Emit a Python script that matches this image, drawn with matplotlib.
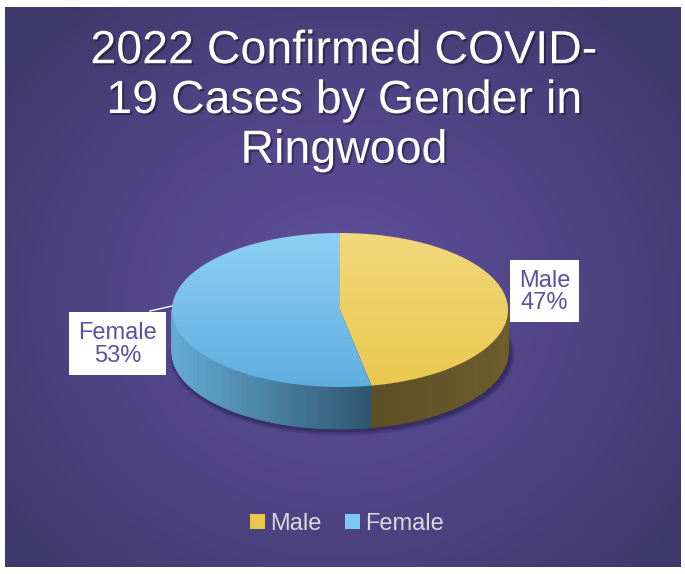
import numpy as np
import matplotlib.pyplot as plt
from matplotlib.patches import Polygon, Rectangle, Patch, Ellipse
from matplotlib.colors import to_rgb
import matplotlib.patheffects as pe

categories = ['Male', 'Female']
values = [47, 53]
label_texts = ['Male\n47%', 'Female\n53%']
title = '2022 Confirmed COVID-\n19 Cases by Gender in\nRingwood'

FONT = 'Liberation Sans'
W, H = 685, 574
fig = plt.figure(figsize=(W / 100, H / 100), dpi=100)
fig.patch.set_facecolor('white')
ax = fig.add_axes([0, 0, 1, 1])

# background radial gradient
x0, x1, y0, y1 = 5, 681, 7, 567
yy, xx = np.mgrid[y0:y1, x0:x1]
r = np.sqrt(((xx - 340) / 430) ** 2 + ((yy - 300) / 390) ** 2)
r = np.clip(r, 0, 1) ** 1.2
c_in = np.array(to_rgb('#5e4f9c'))
c_out = np.array(to_rgb('#3f386b'))
bg = c_in[None, None, :] * (1 - r[..., None]) + c_out[None, None, :] * r[..., None]
ax.imshow(bg, extent=[x0, x1, y1, y0], zorder=0, interpolation='bilinear')

# pie geometry
cx, cy, a, b, depth = 340, 310, 168, 77, 42
fr = np.array(values, float) / np.sum(values)
bounds = np.concatenate([[0], np.cumsum(fr)]) * 2 * np.pi  # clockwise from top


def pt(t, dy=0.0):
    return cx + a * np.sin(t), cy - b * np.cos(t) + dy


# shadow
for k, al in zip(range(5), [0.10, 0.10, 0.12, 0.14, 0.16]):
    ax.add_patch(Ellipse((cx + 2, cy + depth + 3), 2 * a + 10 - 2 * k, 2 * b + 8 - 2 * k,
                         facecolor='#1e1840', edgecolor='none', alpha=al, zorder=1))

side_cols = {0: ('#5d4f26', '#6e5e2c'), 1: ('#2f566f', '#65acd5')}
top_cols = {0: ('#f1d87c', '#eac84d'), 1: ('#8fcff4', '#5eaee0')}

# sides (visible front half: t in [pi/2, 3pi/2])
for i in range(len(values)):
    ta = max(bounds[i], np.pi / 2)
    tb = min(bounds[i + 1], 3 * np.pi / 2)
    if tb <= ta:
        continue
    n = 80
    ts = np.linspace(ta, tb, n + 1)
    c_split = np.array(to_rgb(side_cols[i][0]))
    c_far = np.array(to_rgb(side_cols[i][1]))
    xs_split = pt(bounds[1])[0]
    for j in range(n):
        t1, t2 = ts[j], ts[j + 1]
        xm = pt((t1 + t2) / 2)[0]
        xfar = cx + a if i == 0 else cx - a
        f = np.clip(abs(xm - xs_split) / abs(xfar - xs_split), 0, 1)
        col = c_split * (1 - f) + c_far * f
        p1, p2 = pt(t1), pt(t2)
        q2, q1 = pt(t2, depth), pt(t1, depth)
        ax.add_patch(Polygon([p1, p2, q2, q1], closed=True, facecolor=col,
                             edgecolor=col, lw=0.6, zorder=2))

# top faces with vertical gradient
for i in range(len(values)):
    ts = np.linspace(bounds[i], bounds[i + 1], 200)
    verts = [(cx, cy)] + [pt(t) for t in ts]
    poly = Polygon(verts, closed=True, facecolor='none', edgecolor='none', zorder=3)
    ax.add_patch(poly)
    ctop = np.array(to_rgb(top_cols[i][0]))
    cbot = np.array(to_rgb(top_cols[i][1]))
    g = np.linspace(0, 1, 200)[:, None, None]
    grad = ctop[None, None, :] * (1 - g) + cbot[None, None, :] * g
    grad = np.repeat(grad, 2, axis=1)
    im = ax.imshow(grad, extent=[cx - a - 2, cx + a + 2, cy + b + 2, cy - b - 2],
                   zorder=3, interpolation='bilinear')
    im.set_clip_path(poly)

# leader line for Female
ax.plot([150, 172], [311, 306], color='white', lw=1, zorder=4)

# data labels
boxes = {0: (510, 260, 69, 62), 1: (69, 312, 97, 63)}
for i in range(len(values)):
    bx, by, bw, bh = boxes[i]
    ax.add_patch(Rectangle((bx, by), bw, bh, facecolor='white', edgecolor='none', zorder=5))
    ax.text(bx + bw / 2, by + bh / 2 + 1, label_texts[i], ha='center', va='center',
            fontsize=17, color='#5b50a3', family=FONT, linespacing=1.05, zorder=6)

# title
ax.text(344, 101, title, ha='center', va='center', fontsize=33.5, color='white',
        family=FONT, linespacing=1.17, zorder=6,
        path_effects=[pe.withSimplePatchShadow(offset=(1.5, -1.5), shadow_rgbFace='black', alpha=0.35)])

ax.set_xlim(0, W)
ax.set_ylim(H, 0)
ax.set_aspect('auto')
ax.axis('off')

# legend
handles = [Patch(facecolor=top_cols[0][1], edgecolor='none'),
           Patch(facecolor='#7cc8f4', edgecolor='none')]
fig.legend(handles=handles, labels=categories, loc='center',
           bbox_to_anchor=(0.507, 1 - 524 / H), ncol=2, frameon=False,
           prop={'family': FONT, 'size': 17}, labelcolor='#d9d9d9',
           handlelength=0.6, handleheight=0.6, handletextpad=0.25, columnspacing=1.0)

fig.savefig('out.png', dpi=100, facecolor='white')
